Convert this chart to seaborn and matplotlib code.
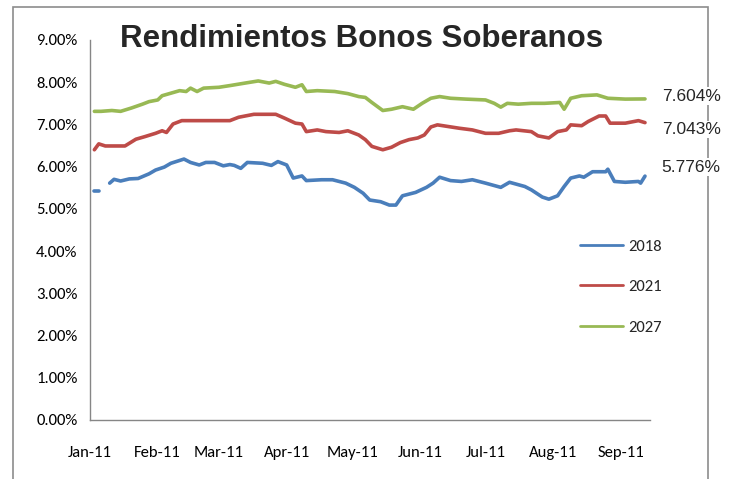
import pandas as pd
import matplotlib.pyplot as plt
import matplotlib.dates as mdates
from matplotlib.patches import Rectangle
from matplotlib.ticker import FuncFormatter
import seaborn as sns

inicio = pd.Timestamp('2011-01-01')

# bono 2018: primer tramo corto, luego hueco sin datos
dias_2018_a = [2, 4]
tasa_2018_a = [5.43, 5.43]
dias_2018 = [9, 11, 14, 18, 22, 27, 30, 34, 37, 43, 46, 50, 53, 57, 61, 64, 66, 69, 72, 79,
             83, 86, 90, 93, 97, 99, 106, 111, 117, 121, 125, 128, 133, 137, 140, 143, 149, 154, 157, 160,
             165, 170, 175, 181, 188, 192, 199, 202, 207, 210, 214, 217, 220, 224, 226, 230, 236, 237, 240, 245,
             251, 252, 254]
tasa_2018 = [5.61, 5.70, 5.66, 5.71, 5.72, 5.83, 5.92, 5.99, 6.08, 6.18, 6.10, 6.04, 6.10, 6.10, 6.02, 6.05, 6.03, 5.96, 6.10, 6.08,
             6.03, 6.12, 6.04, 5.73, 5.78, 5.67, 5.69, 5.69, 5.61, 5.51, 5.37, 5.21, 5.17, 5.09, 5.09, 5.31, 5.39, 5.51, 5.61, 5.75,
             5.67, 5.65, 5.69, 5.61, 5.51, 5.63, 5.53, 5.45, 5.28, 5.23, 5.31, 5.53, 5.73, 5.78, 5.75, 5.88, 5.88, 5.94, 5.65, 5.63,
             5.65, 5.61, 5.776]

dias_2021 = [2, 4, 7, 16, 21, 25, 30, 33, 35, 38, 42, 64, 68, 75, 85, 89, 94, 97, 99, 104,
             108, 114, 118, 123, 126, 129, 134, 138, 142, 146, 150, 153, 156, 159, 164, 169, 175, 181, 187, 192,
             195, 202, 205, 210, 214, 218, 220, 225, 228, 233, 236, 238, 245, 251, 254]
tasa_2021 = [6.40, 6.54, 6.49, 6.49, 6.65, 6.71, 6.79, 6.85, 6.81, 7.01, 7.09, 7.09, 7.17, 7.24, 7.24, 7.15, 7.03, 7.01, 6.83, 6.87,
             6.83, 6.81, 6.85, 6.75, 6.64, 6.48, 6.40, 6.46, 6.57, 6.64, 6.68, 6.75, 6.94, 6.99, 6.95, 6.91, 6.87, 6.79, 6.79, 6.85,
             6.87, 6.83, 6.73, 6.68, 6.83, 6.87, 6.99, 6.97, 7.07, 7.20, 7.20, 7.03, 7.03, 7.09, 7.043]

dias_2027 = [2, 5, 10, 14, 19, 24, 27, 31, 33, 37, 41, 44, 46, 49, 52, 59, 64, 71, 77, 82,
             85, 89, 94, 97, 99, 104, 112, 118, 123, 126, 129, 134, 138, 143, 148, 152, 156, 160, 165, 172,
             181, 185, 188, 191, 196, 202, 208, 215, 217, 220, 225, 232, 237, 245, 254]
tasa_2027 = [7.31, 7.31, 7.33, 7.31, 7.39, 7.48, 7.54, 7.58, 7.68, 7.74, 7.80, 7.78, 7.86, 7.78, 7.86, 7.88, 7.92, 7.98, 8.03, 7.98,
             8.02, 7.95, 7.88, 7.94, 7.78, 7.80, 7.78, 7.73, 7.66, 7.64, 7.52, 7.33, 7.36, 7.42, 7.36, 7.50, 7.62, 7.66, 7.62, 7.60,
             7.58, 7.50, 7.41, 7.50, 7.48, 7.50, 7.50, 7.52, 7.36, 7.62, 7.68, 7.70, 7.62, 7.60, 7.604]

bonos = ['2018', '2021', '2027']
colores = {'2018': '#4A7EBB', '2021': '#BE4B48', '2027': '#98B954'}


def armar_tramo(dias, tasas, bono, tramo):
    return pd.DataFrame({'fecha': inicio + pd.to_timedelta(dias, unit='D'),
                         'tasa': tasas, 'bono': bono, 'tramo': tramo})


df = pd.concat([armar_tramo(dias_2018_a, tasa_2018_a, '2018', '2018a'),
                armar_tramo(dias_2018, tasa_2018, '2018', '2018b'),
                armar_tramo(dias_2021, tasa_2021, '2021', '2021'),
                armar_tramo(dias_2027, tasa_2027, '2027', '2027')], ignore_index=True)

sns.set_style('white')
plt.rcParams['font.family'] = ['Carlito', 'Lato', 'DejaVu Sans']

fig = plt.figure(figsize=(7.39, 4.79), dpi=100)
ax = fig.add_axes([0.1218, 0.1232, 0.7578, 0.7933])

sns.lineplot(data=df, x='fecha', y='tasa', hue='bono', hue_order=bonos, units='tramo',
             estimator=None, palette=colores, linewidth=2.6, ax=ax)

ax.set_ylim(0, 9)
ax.set_yticks(range(10))
ax.yaxis.set_major_formatter(FuncFormatter(lambda v, p: '{:.2f}%'.format(v)))
ax.set_xlim(inicio, inicio + pd.Timedelta(days=256.3))
ax.xaxis.set_major_locator(mdates.MonthLocator())
ax.xaxis.set_major_formatter(mdates.DateFormatter('%b-%y'))
ax.set_xlabel('')
ax.set_ylabel('')

for lado in ['top', 'right']:
    ax.spines[lado].set_visible(False)
for lado in ['left', 'bottom']:
    ax.spines[lado].set_color('#868686')
    ax.spines[lado].set_linewidth(1)
ax.tick_params(axis='both', direction='out', length=4, width=1, color='#868686',
               labelsize=12, labelcolor='black')
ax.tick_params(axis='y', pad=5)
ax.tick_params(axis='x', pad=15)

handles, labels = ax.get_legend_handles_labels()
leg = ax.legend(handles, labels, loc='upper left', bbox_to_anchor=(580 / 739, 1 - 239 / 479),
                bbox_transform=fig.transFigure, frameon=False, fontsize=12,
                handlelength=2.6, handletextpad=0.3, labelspacing=1.55,
                borderpad=0, borderaxespad=0)
for linea in leg.get_lines():
    linea.set_linewidth(2)

# etiquetas con el ultimo valor de cada serie
desplazamientos = {'2018': 6.5, '2021': -5, '2027': 2}
for bono in bonos:
    ultimo = df[df['bono'] == bono].iloc[-1]
    ax.annotate('{:.3f}%'.format(ultimo['tasa']), xy=(ultimo['fecha'], ultimo['tasa']),
                xytext=(12, desplazamientos[bono]), textcoords='offset points',
                ha='left', va='center', fontsize=12.5, family='Liberation Sans',
                bbox=dict(fc='white', ec='none', pad=1), annotation_clip=False)

fig.text(362 / 739, 1 - 47 / 479, 'Rendimientos Bonos Soberanos', ha='center', va='baseline',
         fontsize=22.5, fontweight='bold', family='Liberation Sans')

borde = Rectangle((13 / 739, -0.05), 695 / 739, 1.05 - 7 / 479, transform=fig.transFigure,
                  fill=False, ec='#8c8c8c', lw=1.2, zorder=-1)
fig.add_artist(borde)

fig.savefig('out.png', dpi=100)
